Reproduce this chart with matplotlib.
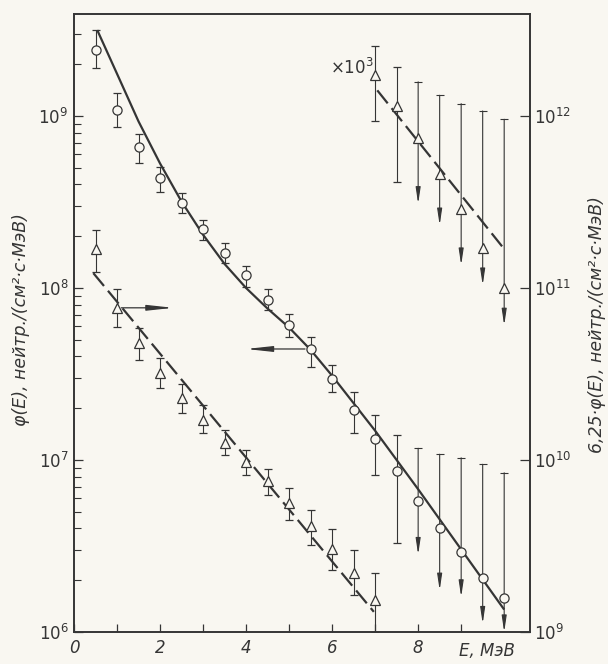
import numpy as np
import matplotlib
matplotlib.use('Agg')
import matplotlib.pyplot as plt
from matplotlib.ticker import FixedLocator, LogLocator, NullFormatter, FuncFormatter, NullLocator

plt.rcParams['font.family'] = ['DejaVu Sans']
plt.rcParams['mathtext.fontset'] = 'dejavusans'

INK = '#353535'
PAPER = '#f9f7f1'

# ---- circles: phi(E), left axis ----
E_circ = [0.5, 1.0, 1.5, 2.0, 2.5, 3.0, 3.5, 4.0, 4.5, 5.0, 5.5, 6.0, 6.5, 7.0, 7.5,
          8.0, 8.5, 9.0, 9.5, 10.0]
phi_circ = [2.42e9, 1.09e9, 6.58e8, 4.35e8, 3.10e8, 2.19e8, 1.60e8, 1.19e8, 8.51e7, 6.10e7,
            4.42e7, 2.94e7, 1.94e7, 1.32e7, 8.67e6, 5.78e6, 4.01e6, 2.90e6, 2.07e6, 1.58e6]
phi_circ_hi = [3.16e9, 1.355e9, 7.85e8, 5.07e8, 3.55e8, 2.48e8, 1.82e8, 1.34e8, 9.82e7, 7.06e7,
               5.16e7, 3.56e7, 2.49e7, 1.83e7, 1.40e7, 1.17e7, 1.08e7, 1.03e7, 9.44e6, 8.43e6]
phi_circ_lo = [1.89e9, 8.59e8, 5.31e8, 3.60e8, 2.73e8, 1.90e8, 1.40e8, 1.02e8, 7.45e7, 5.21e7,
               3.48e7, 2.49e7, 1.43e7, 8.18e6, 3.28e6, 2.82e6, 1.75e6, 1.60e6, 1.12e6, 1.0e6]
circ_is_limit = [False] * 15 + [True] * 5

# solid curve through circles
E_fit_circ = [0.54, 1.0, 1.5, 2.0, 2.5, 3.0, 3.5, 4.0, 4.5, 5.0, 5.5, 6.0, 7.0, 8.0, 9.0, 10.0]
phi_fit_circ = [3.16e9, 1.76e9, 9.3e8, 5.3e8, 3.18e8, 2.04e8, 1.38e8, 1.0e8, 7.59e7, 5.89e7,
                4.37e7, 3.09e7, 1.48e7, 6.76e6, 3.02e6, 1.35e6]

# ---- lower triangles: 6.25*phi(E), right axis ----
E_tri = [0.5, 1.0, 1.5, 2.0, 2.5, 3.0, 3.5, 4.0, 4.5, 5.0, 5.5, 6.0, 6.5, 7.0]
val_tri = [1.68e11, 7.67e10, 4.76e10, 3.22e10, 2.29e10, 1.71e10, 1.26e10, 9.77e9, 7.55e9,
           5.60e9, 4.13e9, 3.04e9, 2.19e9, 1.53e9]
val_tri_hi = [2.17e11, 9.82e10, 5.83e10, 3.90e10, 2.77e10, 2.09e10, 1.49e10, 1.14e10, 8.83e9,
              6.84e9, 5.12e9, 3.95e9, 3.00e9, 2.19e9]
val_tri_lo = [1.24e11, 5.96e10, 3.81e10, 2.61e10, 1.88e10, 1.43e10, 1.07e10, 8.18e9, 6.27e9,
              4.48e9, 3.21e9, 2.29e9, 1.64e9, 1.0e9]
E_fit_tri = [0.45, 6.97]
val_fit_tri = [1.22e11, 1.31e9]

# ---- upper triangles (x10^3), right axis ----
E_up = [7.0, 7.5, 8.0, 8.5, 9.0, 9.5, 10.0]
val_up = [1.73e12, 1.14e12, 7.45e11, 4.62e11, 2.89e11, 1.71e11, 1.0e11]
val_up_hi = [2.55e12, 1.93e12, 1.58e12, 1.32e12, 1.18e12, 1.07e12, 9.57e11]
val_up_lo = [9.31e11, 4.13e11, 3.09e11, 2.32e11, 1.36e11, 1.04e11, 6.07e10]
up_is_limit = [False, False, True, True, True, True, True]
E_fit_up = [7.05, 9.98]
val_fit_up = [1.41e12, 1.71e11]

x_tick_labels = ['0', '2', '4', '6', '8']
x_ticks = [0, 2, 4, 6, 8]

fig = plt.figure(figsize=(6.08, 6.64), dpi=100, facecolor=PAPER)
ax = fig.add_axes([74 / 608, 32 / 664, 456 / 608, 618 / 664])
ax.set_facecolor(PAPER)
ax2 = ax.twinx()

ax.set_xlim(0, 10.6)
ax.set_yscale('log')
ax.set_ylim(1e6, 10 ** 9.593)
ax2.set_yscale('log')
ax2.set_ylim(1e9, 10 ** 12.593)

for sp in list(ax.spines.values()) + list(ax2.spines.values()):
    sp.set_color(INK)
    sp.set_linewidth(1.2)

mk = dict(ms=6.6, mfc=PAPER, mec=INK, mew=0.9, ls='none')
eb = dict(ecolor=INK, elinewidth=0.8, capsize=2.8, capthick=0.8)
arrow_down = dict(arrowstyle='-|>,head_length=0.8,head_width=0.12', color=INK, lw=0.8,
                  shrinkA=0, shrinkB=0, mutation_scale=12)


def draw_series(a, E, v, hi, lo, lim, marker):
    E = np.asarray(E); v = np.asarray(v); hi = np.asarray(hi); lo = np.asarray(lo)
    lim = np.asarray(lim, dtype=bool)
    n = ~lim
    a.errorbar(E[n], v[n], yerr=[v[n] - lo[n], hi[n] - v[n]], fmt=marker, zorder=4, **mk, **eb)
    if lim.any():
        for e, h, l in zip(E[lim], hi[lim], lo[lim]):
            a.annotate('', xy=(e, l), xytext=(e, h), arrowprops=arrow_down, zorder=2,
                       annotation_clip=False)
        a.plot(E[lim], hi[lim], marker='_', ms=5.6, mew=0.8, color=INK, ls='none', zorder=3)
        a.plot(E[lim], v[lim], marker=marker, zorder=5, **mk)


# fits
ax.plot(E_fit_circ, phi_fit_circ, color=INK, lw=1.6, zorder=2, solid_capstyle='butt')
ax2.plot(E_fit_tri, val_fit_tri, color=INK, lw=1.6, dashes=(7.5, 2.8), zorder=2)
ax2.plot(E_fit_up, val_fit_up, color=INK, lw=1.6, dashes=(7.5, 2.8), zorder=2)

draw_series(ax, E_circ, phi_circ, phi_circ_hi, phi_circ_lo, circ_is_limit, 'o')
draw_series(ax2, E_tri, val_tri, val_tri_hi, val_tri_lo, [False] * len(E_tri), '^')
draw_series(ax2, E_up, val_up, val_up_hi, val_up_lo, up_is_limit, '^')

# axis indicator arrows
side_arrow = dict(arrowstyle='-|>,head_length=1.3,head_width=0.14', color=INK, lw=0.9,
                  shrinkA=0, shrinkB=0, mutation_scale=12)
ax2.annotate('', xy=(2.31, val_tri[1]), xytext=(1.1, val_tri[1]), arrowprops=side_arrow)
ax.annotate('', xy=(4.0, phi_circ[10]), xytext=(5.37, phi_circ[10]), arrowprops=side_arrow)

# ticks
ital = FuncFormatter(lambda v, p: r'$\mathit{10}^{\mathit{%d}}$' % round(np.log10(v)))
ax.xaxis.set_major_locator(FixedLocator(x_ticks))
ax.set_xticklabels(x_tick_labels, style='italic', fontsize=12, color=INK)
ax.xaxis.set_minor_locator(FixedLocator([1, 3, 5, 7, 9]))
ax.tick_params(axis='x', which='both', direction='in', length=6, width=0.9, color=INK, pad=5,
               top=False)
ax.yaxis.set_major_locator(LogLocator(base=10, numticks=10))
ax.yaxis.set_minor_locator(LogLocator(base=10, subs=np.arange(2, 10), numticks=20))
ax.yaxis.set_major_formatter(ital)
ax.yaxis.set_minor_formatter(NullFormatter())
ax.tick_params(axis='y', which='major', direction='in', length=6.5, width=0.9, color=INK,
               labelsize=12, labelcolor=INK, pad=4)
ax.tick_params(axis='y', which='minor', direction='in', length=5, width=0.8, color=INK)

ax2.yaxis.set_major_locator(LogLocator(base=10, numticks=10))
ax2.yaxis.set_minor_locator(NullLocator())
ax2.yaxis.set_major_formatter(ital)
ax2.tick_params(axis='y', which='major', direction='in', length=7, width=0.9, color=INK,
                labelsize=12, labelcolor=INK, pad=3)

# labels
ax.set_ylabel('φ(E), нейтр./(см²·с·МэВ)', style='italic', fontsize=12.5, color=INK)
ax.yaxis.set_label_coords(-0.096, 0.506)
ax2.set_ylabel('6,25·φ(E), нейтр./(см²·с·МэВ)', style='italic', fontsize=12.5, color=INK,
               rotation=90)
ax2.yaxis.set_label_coords(1.127, 0.497)

ax.annotate('E, МэВ', xy=(9.6, 0), xycoords=('data', 'axes fraction'), xytext=(0, -19),
            textcoords='offset pixels', ha='center', va='center', style='italic',
            fontsize=12, color=INK, annotation_clip=False)
ax.text(0.61, 0.913, r'$\times\mathit{10}^{\mathit{3}}$', transform=ax.transAxes,
        fontsize=12, color=INK, ha='center', va='center')

fig.savefig('out.png', dpi=100, facecolor=PAPER)
